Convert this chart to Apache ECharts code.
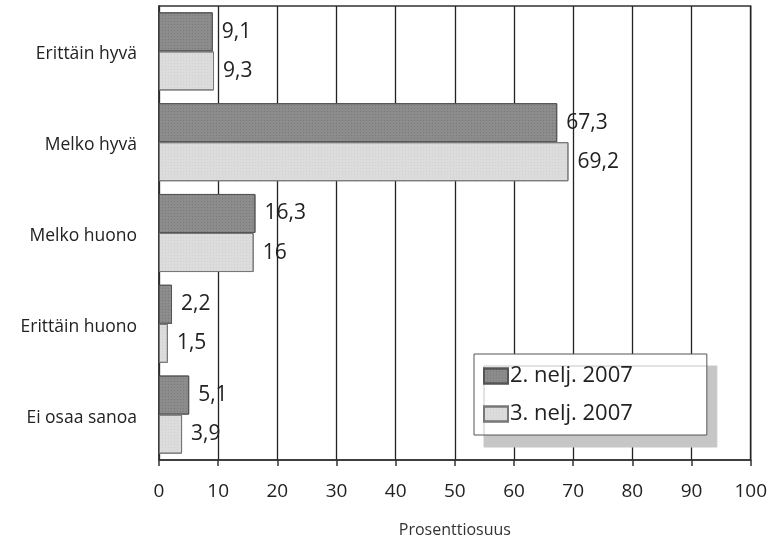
<!DOCTYPE html>
<html>
<head>
<meta charset="utf-8">
<script src="https://cdn.jsdelivr.net/npm/echarts@6/dist/echarts.min.js"></script>
<style>
  html, body { margin: 0; padding: 0; background: #fff; }
  #main { width: 770px; height: 555px; }
</style>
</head>
<body>
<div id="main"></div>
<script>
// data
var categories = ['Erittäin hyvä', 'Melko hyvä', 'Melko huono', 'Erittäin huono', 'Ei osaa sanoa'];
var q2Values = [9.1, 67.3, 16.3, 2.2, 5.1];
var q3Values = [9.3, 69.2, 16, 1.5, 3.9];
var seriesNames = ['2. nelj. 2007', '3. nelj. 2007'];

var fontFam = '"Open Sans", "Noto Sans", sans-serif';

function fiLabel(p) {
    return String(p.value).replace('.', ',');
}

var myChart = echarts.init(document.getElementById('main'));

var option = {
    backgroundColor: '#fff',
    animation: false,
    grid: {
        left: 159,
        right: 18,
        top: 6,
        bottom: 95,
        show: true,
        borderColor: '#333',
        borderWidth: 1.5
    },
    legend: {
        orient: 'vertical',
        left: 474,
        top: 354,
        padding: [10, 74, 9, 9],
        itemGap: 14,
        itemWidth: 24,
        itemHeight: 15,
        icon: 'rect',
        backgroundColor: '#fff',
        borderColor: '#555',
        borderWidth: 1,
        shadowColor: '#c6c6c6',
        shadowBlur: 0,
        shadowOffsetX: 10,
        shadowOffsetY: 12,
        textStyle: {
            fontFamily: fontFam,
            fontSize: 22,
            lineHeight: 24,
            color: '#222',
            padding: [0, 0, 0, -3]
        },
        data: seriesNames
    },
    xAxis: {
        type: 'value',
        min: 0,
        max: 100,
        interval: 10,
        name: 'Prosenttiosuus',
        nameLocation: 'middle',
        nameGap: 62,
        nameTextStyle: { fontFamily: fontFam, fontSize: 16, color: '#333' },
        axisLine: { show: true, lineStyle: { color: '#333', width: 1.5 } },
        axisTick: { show: true, length: 6, lineStyle: { color: '#333', width: 1.5 } },
        axisLabel: { fontFamily: fontFam, fontSize: 19, color: '#222', margin: 22 },
        splitLine: { show: true, lineStyle: { color: '#222', width: 1.3 } }
    },
    yAxis: {
        type: 'category',
        inverse: true,
        data: categories,
        axisLine: { show: true, lineStyle: { color: '#333', width: 1.5 } },
        axisTick: { show: false },
        axisLabel: {
            margin: 22,
            formatter: function (v) { return '{t|' + v + '}'; },
            rich: {
                t: {
                    fontFamily: fontFam, fontSize: 17.5, color: '#222',
                    lineHeight: 20, padding: [6, 0, 0, 0]
                }
            }
        }
    },
    series: [{
        name: seriesNames[0],
        type: 'bar',
        data: q2Values,
        barGap: '0%',
        barCategoryGap: '14%',
        itemStyle: {
            color: '#8c8c8c',
            borderColor: '#555',
            borderWidth: 1,
            decal: {
                symbol: 'rect',
                symbolSize: 1,
                dashArrayX: [1, 2],
                dashArrayY: [1, 2],
                color: 'rgba(0,0,0,0.14)'
            }
        },
        label: {
            show: true,
            position: 'right',
            distance: 9,
            fontFamily: fontFam,
            fontSize: 21,
            color: '#222',
            formatter: fiLabel
        }
    }, {
        name: seriesNames[1],
        type: 'bar',
        data: q3Values,
        barGap: '0%',
        barCategoryGap: '14%',
        itemStyle: {
            color: '#dcdcdc',
            borderColor: '#777',
            borderWidth: 1,
            decal: {
                symbol: 'rect',
                symbolSize: 1,
                dashArrayX: [1, 2],
                dashArrayY: [1, 2],
                color: 'rgba(0,0,0,0.06)'
            }
        },
        label: {
            show: true,
            position: 'right',
            distance: 9,
            fontFamily: fontFam,
            fontSize: 21,
            color: '#222',
            formatter: fiLabel
        }
    }]
};

myChart.setOption(option);
</script>
</body>
</html>
